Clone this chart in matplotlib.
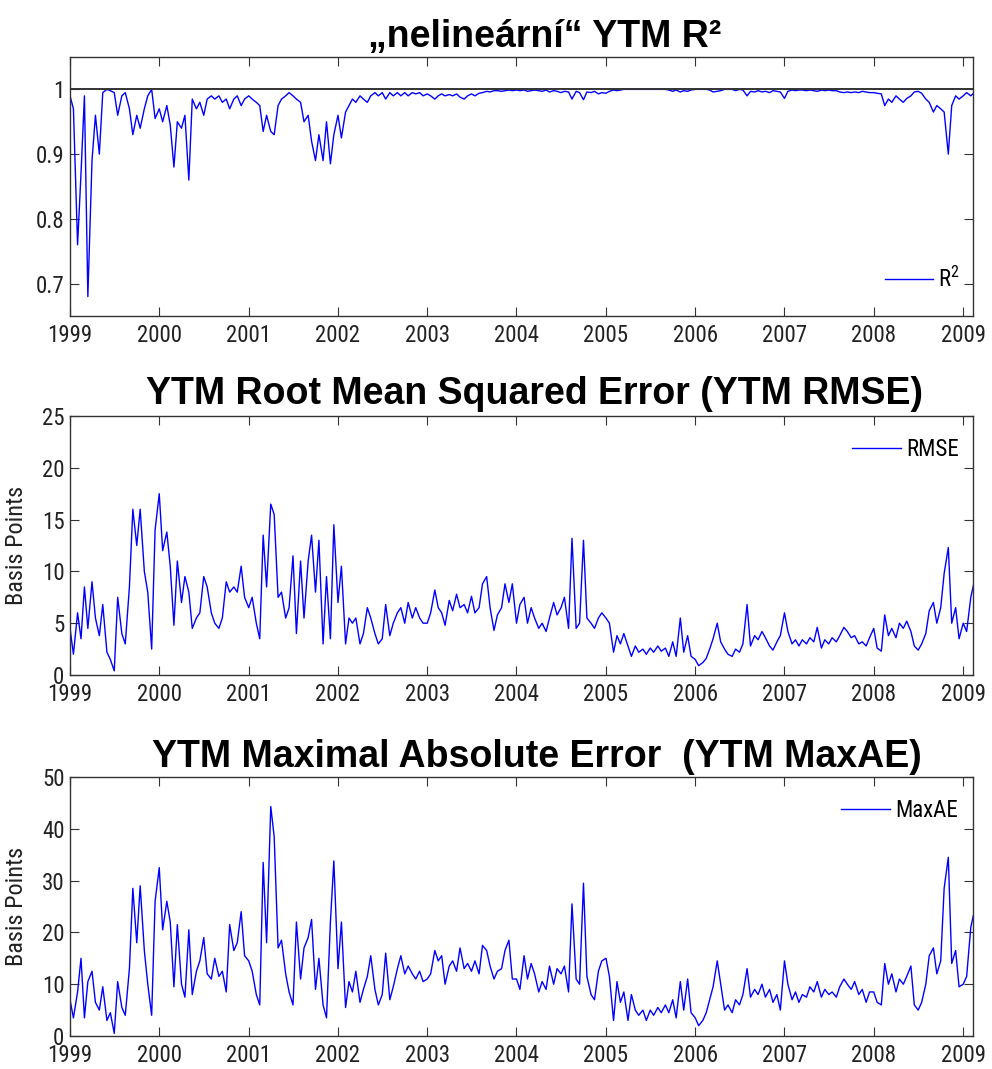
import numpy as np
import pandas as pd
import matplotlib
matplotlib.use("Agg")
import matplotlib.pyplot as plt
import matplotlib.dates as mdates

# semi-monthly fit statistics, Jan 1999 - Feb 2009 (24 values per year)
dates = pd.date_range("1999-01-01", "2009-02-15", freq="SMS")

r2 = [
    0.99, 0.97, 0.76, 0.87, 0.99, 0.68, 0.89, 0.96, 0.90, 0.995, 1.0, 0.998, 0.995, 0.96, 0.99, 0.995, 0.97, 0.93, 0.96, 0.94, 0.97, 0.99, 1.0, 0.955,  # 1999
    0.97, 0.95, 0.975, 0.945, 0.88, 0.95, 0.94, 0.96, 0.86, 0.985, 0.97, 0.98, 0.96, 0.985, 0.99, 0.985, 0.99, 0.98, 0.985, 0.97, 0.985, 0.99, 0.975, 0.985,  # 2000
    0.99, 0.985, 0.98, 0.975, 0.935, 0.96, 0.935, 0.93, 0.975, 0.985, 0.99, 0.995, 0.99, 0.985, 0.98, 0.95, 0.96, 0.92, 0.89, 0.93, 0.89, 0.95, 0.885, 0.93,  # 2001
    0.96, 0.925, 0.965, 0.975, 0.985, 0.98, 0.99, 0.985, 0.98, 0.99, 0.995, 0.99, 0.995, 0.985, 0.995, 0.99, 0.995, 0.99, 0.995, 0.99, 0.995, 0.993, 0.995, 0.99,  # 2002
    0.993, 0.99, 0.985, 0.99, 0.993, 0.99, 0.992, 0.99, 0.993, 0.988, 0.985, 0.99, 0.993, 0.99, 0.994, 0.995, 0.997, 0.996, 0.998, 0.998, 0.997, 0.998, 0.999, 0.998,  # 2003
    0.999, 0.998, 0.999, 0.997, 0.998, 0.999, 0.998, 0.997, 0.999, 0.996, 0.998, 0.997, 0.995, 0.997, 0.996, 0.985, 0.997, 0.995, 0.984, 0.996, 0.995, 0.997, 0.993, 0.995,  # 2004
    0.994, 0.997, 0.999, 0.998, 0.999, 1.0, 1.0, 1.0, 1.0, 1.0, 1.0, 1.0, 1.0, 1.0, 1.0, 1.0, 1.0, 0.999, 0.997, 0.999, 0.996, 0.998, 0.997, 0.999,  # 2005
    1.0, 1.0, 1.0, 1.0, 0.999, 0.996, 0.997, 0.998, 1.0, 1.0, 1.0, 0.998, 1.0, 0.999, 0.99, 0.997, 0.996, 0.998, 0.996, 0.997, 0.995, 0.998, 0.997, 0.996,  # 2006
    0.986, 0.997, 0.999, 0.998, 0.999, 0.999, 0.998, 0.999, 0.998, 0.997, 0.999, 0.998, 0.999, 0.998, 0.998, 0.996, 0.995, 0.996, 0.995, 0.996, 0.995, 0.997, 0.996, 0.995,  # 2007
    0.995, 0.994, 0.993, 0.975, 0.985, 0.98, 0.99, 0.985, 0.98, 0.986, 0.99, 0.996, 0.997, 0.994, 0.985, 0.98, 0.965, 0.975, 0.97, 0.965, 0.90, 0.975, 0.99, 0.985,  # 2008
    0.99, 0.995, 0.99, 0.995,  # 2009
]

rmse = [
    4.5, 2.0, 6.0, 3.5, 8.5, 4.5, 9.0, 5.5, 3.8, 6.8, 2.2, 1.5, 0.4, 7.5, 4.0, 3.0, 8.5, 16.0, 12.5, 16.0, 10.0, 8.0, 2.5, 14.0,
    17.5, 12.0, 13.8, 10.5, 4.8, 11.0, 7.0, 9.5, 8.0, 4.5, 5.5, 6.0, 9.5, 8.5, 6.0, 5.0, 4.5, 5.5, 9.0, 8.0, 8.5, 8.0, 10.5, 7.5,
    6.5, 7.5, 5.0, 3.5, 13.5, 8.5, 16.5, 15.5, 7.5, 8.0, 5.5, 6.5, 11.5, 4.0, 11.0, 5.5, 11.0, 13.5, 8.0, 13.0, 3.0, 9.5, 3.5, 14.5,
    7.0, 10.5, 3.0, 5.5, 5.0, 5.5, 3.0, 4.0, 6.5, 5.5, 4.0, 3.0, 3.5, 6.8, 3.8, 5.0, 6.0, 6.5, 5.0, 7.0, 5.5, 6.5, 5.5, 5.0,
    5.0, 6.0, 8.2, 6.5, 6.0, 4.8, 7.2, 6.2, 7.8, 6.5, 6.8, 6.0, 7.6, 6.0, 6.5, 8.8, 9.5, 6.5, 4.3, 5.8, 6.5, 8.8, 7.0, 8.8,
    5.0, 6.8, 7.5, 5.0, 6.5, 5.5, 4.5, 5.0, 4.2, 5.5, 7.0, 5.8, 6.5, 7.5, 4.5, 13.2, 4.5, 5.0, 13.0, 5.5, 5.0, 4.5, 5.5, 6.0,
    5.5, 5.0, 2.2, 3.8, 3.0, 4.0, 2.8, 1.8, 2.8, 2.2, 2.5, 2.0, 2.6, 2.2, 2.8, 2.3, 2.6, 1.8, 3.2, 1.8, 5.5, 2.2, 3.8, 1.8,
    1.5, 0.9, 1.2, 1.6, 2.5, 3.5, 5.0, 3.2, 2.5, 2.0, 1.8, 2.5, 2.2, 3.0, 6.8, 2.8, 3.8, 3.4, 4.2, 3.6, 2.8, 2.4, 3.2, 3.8,
    6.0, 4.2, 3.0, 3.4, 2.8, 3.4, 3.0, 3.6, 3.2, 4.6, 2.6, 3.4, 3.0, 3.6, 3.2, 3.8, 4.6, 4.2, 3.6, 3.8, 3.0, 3.2, 2.8, 3.6,
    4.5, 2.6, 2.3, 5.8, 3.8, 4.5, 3.6, 5.0, 4.5, 5.2, 4.2, 2.8, 2.4, 3.0, 4.0, 6.2, 7.0, 5.0, 6.5, 9.8, 12.3, 5.0, 6.5, 3.5,
    5.0, 4.2, 7.5, 9.0,
]

maxae = [
    7.0, 3.5, 8.5, 15.0, 3.5, 10.5, 12.5, 6.5, 5.0, 9.5, 3.0, 4.5, 0.5, 10.5, 5.5, 4.0, 13.0, 28.5, 18.0, 29.0, 16.5, 10.0, 4.0, 26.0,
    32.5, 20.5, 26.0, 22.0, 9.5, 21.5, 10.0, 7.5, 20.5, 8.0, 12.5, 14.5, 19.0, 12.0, 11.0, 15.0, 11.5, 12.5, 8.5, 21.5, 16.5, 18.0, 24.0, 15.5,
    14.5, 12.5, 8.0, 6.0, 33.5, 18.0, 44.3, 38.5, 17.0, 18.5, 12.0, 8.5, 6.0, 22.0, 11.0, 17.0, 19.0, 22.5, 9.0, 15.0, 6.0, 3.5, 22.0, 33.8,
    13.0, 22.0, 5.5, 10.5, 8.5, 12.5, 6.5, 9.0, 11.5, 15.5, 9.0, 6.0, 8.0, 16.0, 7.0, 9.5, 13.0, 15.5, 12.0, 13.5, 12.0, 11.0, 12.5, 10.5,
    11.0, 12.0, 16.5, 14.5, 15.5, 10.0, 13.5, 14.5, 12.5, 17.0, 13.0, 14.0, 12.5, 14.5, 12.0, 17.5, 16.5, 13.5, 11.0, 12.5, 13.0, 16.5, 18.5, 11.0,
    11.0, 9.0, 15.5, 11.0, 14.0, 12.0, 8.5, 10.5, 9.0, 13.5, 10.0, 13.0, 12.0, 13.5, 8.5, 25.5, 11.0, 10.0, 29.5, 11.5, 8.0, 7.0, 12.5, 14.5,
    15.0, 11.5, 3.0, 10.5, 6.5, 8.5, 3.0, 8.0, 5.0, 4.0, 5.0, 3.0, 5.0, 4.0, 5.5, 4.5, 6.0, 4.5, 7.0, 3.5, 10.5, 5.0, 11.0, 4.5,
    3.5, 2.0, 3.0, 4.5, 7.0, 9.5, 14.5, 10.0, 5.0, 6.0, 4.5, 7.0, 6.0, 8.0, 13.0, 7.5, 9.0, 8.0, 10.0, 7.5, 9.0, 6.5, 8.0, 5.0,
    14.5, 10.0, 7.0, 8.5, 6.5, 8.0, 7.5, 9.5, 8.5, 10.5, 7.5, 9.0, 8.0, 8.5, 7.5, 9.5, 11.0, 10.0, 9.0, 10.5, 8.0, 9.0, 6.5, 8.5,
    8.5, 6.5, 6.0, 14.0, 10.0, 12.0, 8.5, 11.0, 10.0, 11.5, 13.5, 6.0, 5.0, 6.5, 10.0, 15.5, 17.0, 12.0, 14.5, 28.5, 34.5, 14.0, 16.5, 9.5,
    10.0, 11.5, 21.0, 24.0,
]

titles = ["\u201enelineární\u201c YTM R²",
          "YTM Root Mean Squared Error (YTM RMSE)",
          "YTM Maximal Absolute Error  (YTM MaxAE)"]

narrow = ["Roboto Condensed", "Liberation Sans", "DejaVu Sans"]
plt.rcParams["font.family"] = narrow
plt.rcParams["mathtext.default"] = "regular"

W, H = 992, 1069
fig = plt.figure(figsize=(W / 100, H / 100), dpi=100)

def axes_px(left, top, right, bottom):
    return fig.add_axes([left / W, 1 - bottom / H, (right - left) / W, (bottom - top) / H])

ax1 = axes_px(70, 57, 973, 316)
ax2 = axes_px(70, 416, 973, 675)
ax3 = axes_px(70, 777, 973, 1036)

blue = "#0000ff"
ax1.plot(dates, r2, color=blue, lw=1.0, label="R$^2$")
ax1.axhline(1.0, color="#333333", lw=1.4, zorder=3)
ax2.plot(dates, rmse, color=blue, lw=1.0, label="RMSE")
ax3.plot(dates, maxae, color=blue, lw=1.0, label="MaxAE")

ax1.set_ylim(0.65, 1.05)
ax1.set_yticks([0.7, 0.8, 0.9, 1.0])
ax1.set_yticklabels(["0.7", "0.8", "0.9", "1"])
ax2.set_ylim(0, 25)
ax2.set_yticks([0, 5, 10, 15, 20, 25])
ax3.set_ylim(0, 50)
ax3.set_yticks([0, 10, 20, 30, 40, 50])

fs = 16.5
for ax in (ax1, ax2, ax3):
    ax.set_xlim(pd.Timestamp("1999-01-01"), pd.Timestamp("2009-02-10"))
    ax.xaxis.set_major_locator(mdates.YearLocator())
    ax.xaxis.set_major_formatter(mdates.DateFormatter("%Y"))
    ax.tick_params(direction="in", length=6.5, width=0.8, top=True, right=True,
                   labelsize=fs, labelcolor="#222222", color="#333333")
    ax.tick_params(axis="x", pad=6)
    ax.tick_params(axis="y", pad=4)
    for sp in ax.spines.values():
        sp.set_color("#333333")
        sp.set_linewidth(1.0)

for ax in (ax2, ax3):
    ax.set_ylabel("Basis Points", fontsize=17.5, color="#222222")
    ax.yaxis.set_label_coords(-0.047, 0.5)

leg_kw = dict(frameon=False, borderpad=0, borderaxespad=0, fontsize=fs,
              handlelength=2.1, handletextpad=0.25)
ax1.legend(loc="center right", bbox_to_anchor=(0.9856, 0.143), **leg_kw)
ax2.legend(loc="center right", bbox_to_anchor=(0.9845, 0.869), **leg_kw)
ax3.legend(loc="center right", bbox_to_anchor=(0.9834, 0.869), **leg_kw)

for (cx, by), t in zip([(545, 47), (535, 404), (537, 767)], titles):
    fig.text(cx / W, 1 - by / H, t, ha="center", va="baseline",
             fontsize=27, fontweight="bold", family=["Liberation Sans", "DejaVu Sans"])

fig.savefig("out.png", dpi=100)
